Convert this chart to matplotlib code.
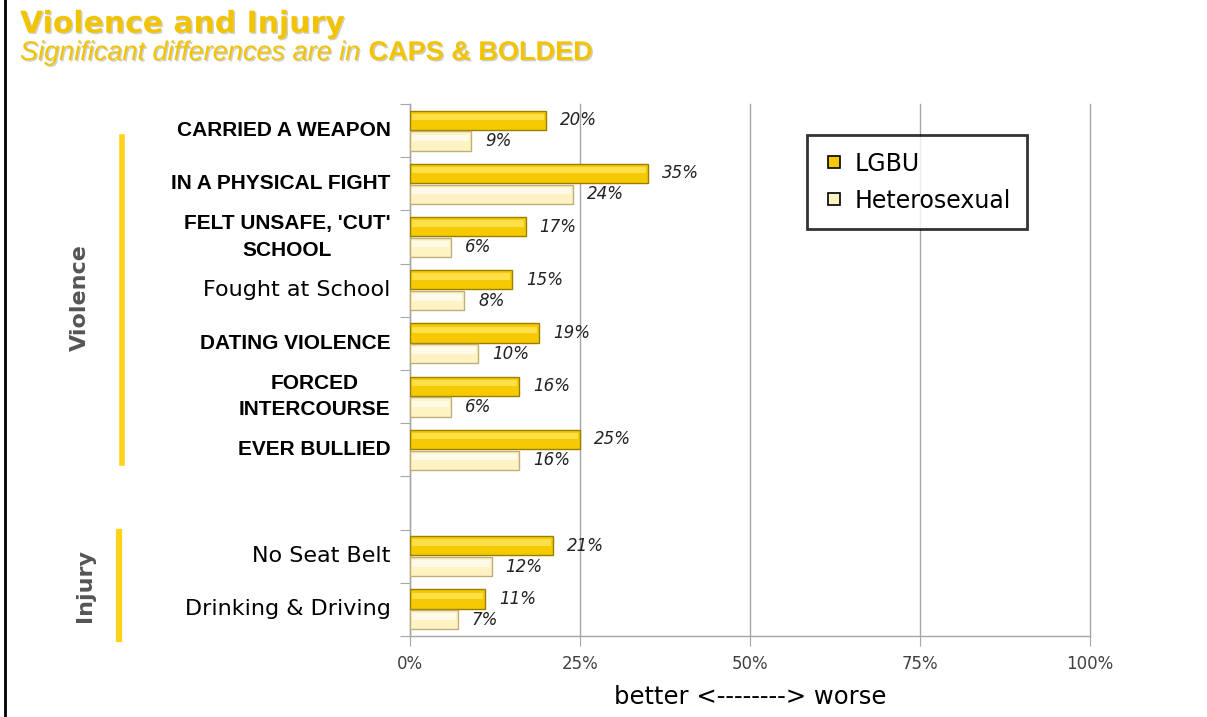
import matplotlib
matplotlib.use("Agg")
import matplotlib.pyplot as plt
import matplotlib.patheffects as pe
from matplotlib.lines import Line2D
import numpy as np

categories = ["CARRIED A WEAPON", "IN A PHYSICAL FIGHT", "FELT UNSAFE, 'CUT'\nSCHOOL",
              "Fought at School", "DATING VIOLENCE", "FORCED\nINTERCOURSE", "EVER BULLIED",
              "", "No Seat Belt", "Drinking & Driving"]
significant = [True, True, True, False, True, True, True, False, False, False]
lgbu = [20, 35, 17, 15, 19, 16, 25, np.nan, 21, 11]
hetero = [9, 24, 6, 8, 10, 6, 16, np.nan, 12, 7]
series_names = ["LGBU", "Heterosexual"]
x_ticks = [0, 25, 50, 75, 100]
x_tick_labels = ["0%", "25%", "50%", "75%", "100%"]

GOLD = "#F5CA00"
GOLD_EDGE = "#9A7E00"
GOLD_HI = "#FFE55C"
CREAM = "#FFF3C4"
CREAM_EDGE = "#BFAE78"
CREAM_HI = "#FFFDF0"
TITLE_GOLD = "#F2C400"
SPINE = "#A6A6A6"

W, H = 1207, 717
fig = plt.figure(figsize=(W / 100, H / 100), dpi=100)
ax = fig.add_axes([410 / W, 1 - 636 / H, 680 / W, 532 / H])

y = np.arange(len(categories))
bh = 0.36
off = 0.195
ax.barh(y - off, lgbu, height=bh, color=GOLD, edgecolor=GOLD_EDGE, linewidth=1.0, zorder=3)
ax.barh(y + off, hetero, height=bh, color=CREAM, edgecolor=CREAM_EDGE, linewidth=1.0, zorder=3)
# bevel highlights
ax.barh(y - off - 0.06, np.array(lgbu) - 0.6, left=0.3, height=0.12, color=GOLD_HI,
        linewidth=0, zorder=4, alpha=0.8)
ax.barh(y + off - 0.06, np.array(hetero) - 0.6, left=0.3, height=0.12, color=CREAM_HI,
        linewidth=0, zorder=4, alpha=0.9)

for yi, a, b in zip(y, lgbu, hetero):
    if not np.isnan(a):
        ax.annotate(f"{a:g}%", (a, yi - off), xytext=(10, 0), textcoords="offset points",
                    va="center", ha="left", fontsize=12, style="italic", color="#222222")
    if not np.isnan(b):
        ax.annotate(f"{b:g}%", (b, yi + off), xytext=(10, 0), textcoords="offset points",
                    va="center", ha="left", fontsize=12, style="italic", color="#222222")

ax.set_xlim(0, 100)
ax.set_ylim(len(categories) - 0.5, -0.5)
ax.set_xticks(x_ticks)
ax.set_xticklabels(x_tick_labels, fontsize=12, color="#404040")
ax.tick_params(axis="x", length=7, color=SPINE, pad=7)
ax.xaxis.grid(True, color=SPINE, linewidth=1.0, zorder=0)
for gl in ax.get_xgridlines():
    gl.set_clip_on(False)
ax.set_axisbelow(True)

ax.set_yticks(np.arange(len(categories) + 1) - 0.5)
ax.set_yticklabels([])
ax.tick_params(axis="y", which="major", length=7, color=SPINE)
ax.set_yticks(y, minor=True)
ax.set_yticklabels(categories, minor=True)
ax.tick_params(axis="y", which="minor", length=0, pad=14)
for lab, sig in zip(ax.get_yticklabels(minor=True), significant):
    lab.set_multialignment("center")
    lab.set_linespacing(1.5)
    lab.set_verticalalignment("center")
    lab.set_color("black")
    if sig:
        lab.set_fontfamily("Liberation Sans")
        lab.set_fontweight("bold")
        lab.set_fontsize(15)
    else:
        lab.set_fontfamily("DejaVu Sans")
        lab.set_fontsize(16)

for s in ["top", "right"]:
    ax.spines[s].set_visible(False)
for s in ["left", "bottom"]:
    ax.spines[s].set_color(SPINE)
    ax.spines[s].set_linewidth(1.0)

ax.set_xlabel("better <--------> worse", fontsize=17.5, labelpad=8, color="black")

handles = [Line2D([], [], marker="s", linestyle="none", markersize=8, markerfacecolor=GOLD,
                  markeredgecolor="black", markeredgewidth=1.2),
           Line2D([], [], marker="s", linestyle="none", markersize=8, markerfacecolor=CREAM,
                  markeredgecolor="black", markeredgewidth=1.2)]
leg = fig.legend(handles, series_names, loc="upper left",
                 bbox_to_anchor=(807 / W, 1 - 135 / H), fontsize=17, frameon=True,
                 fancybox=False, borderpad=0.7, handletextpad=0.4, labelspacing=0.55,
                 borderaxespad=0, handlelength=0.9)
leg.get_frame().set_edgecolor("black")
leg.get_frame().set_linewidth(2)

# group brackets and labels
fig.add_artist(Line2D([122 / W, 122 / W], [1 - 137 / H, 1 - 463 / H], color="#FFD21A", linewidth=4))
fig.add_artist(Line2D([119 / W, 119 / W], [1 - 532 / H, 1 - 639 / H], color="#FFD21A", linewidth=4.5))
fig.text(80 / W, 1 - 298 / H, "Violence", rotation=90, ha="center", va="center",
         fontsize=16, fontweight="bold", color="#555555")
fig.text(85 / W, 1 - 585 / H, "Injury", rotation=90, ha="center", va="center",
         fontsize=16, fontweight="bold", color="#555555")

# left border
fig.add_artist(Line2D([5 / W, 5 / W], [0, 1], color="black", linewidth=2))

shadow = [pe.SimplePatchShadow(offset=(1.0, -1.0), shadow_rgbFace="#a0a0a0", alpha=0.5), pe.Normal()]
fig.text(20 / W, 1 - 24 / H, "Violence and Injury", ha="left", va="center", fontsize=21.5,
         fontweight="bold", color=TITLE_GOLD, fontfamily="DejaVu Sans", path_effects=shadow)
t1 = fig.text(20 / W, 1 - 53 / H, "Significant differences are in ", ha="left", va="center",
              fontsize=19.5, style="italic", color=TITLE_GOLD, fontfamily="Liberation Sans",
              path_effects=shadow)
fig.canvas.draw()
bb = t1.get_window_extent()
fig.text(bb.x1 / W, 1 - 53 / H, "CAPS & BOLDED", ha="left", va="center", fontsize=19.5,
         fontweight="bold", color=TITLE_GOLD, fontfamily="Liberation Sans", path_effects=shadow)

fig.savefig("out.png", dpi=100)
